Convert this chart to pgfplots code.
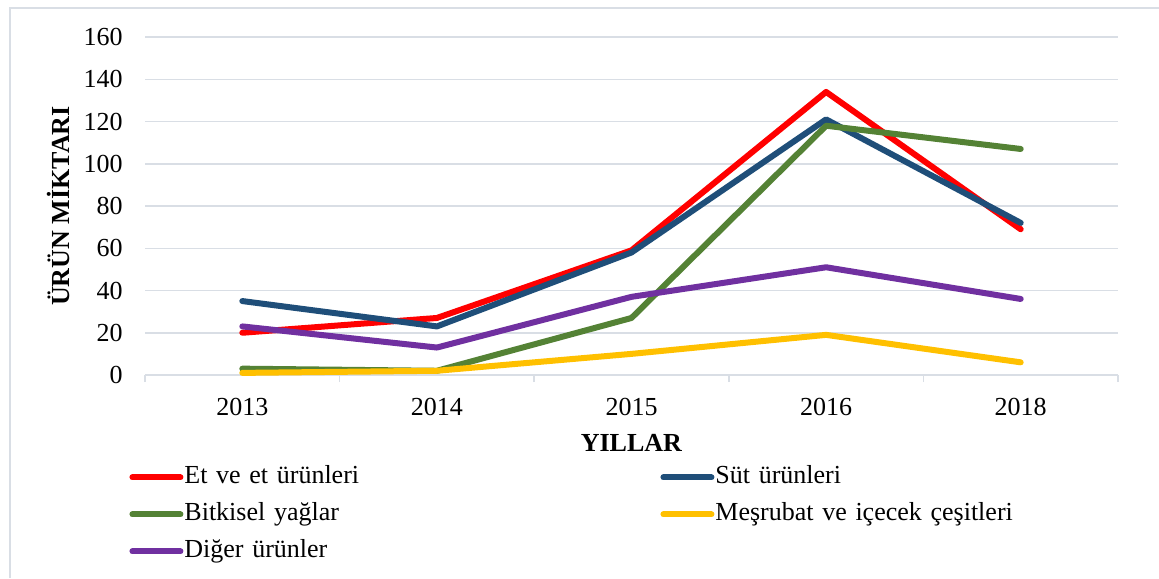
\documentclass[border=0pt]{standalone}
\usepackage{pgfplots}
\pgfplotsset{compat=1.18}
\usepackage{fontspec}
\setmainfont{Liberation Serif}
\definecolor{cEt}{HTML}{FF0000}
\definecolor{cSut}{HTML}{1F4E79}
\definecolor{cBit}{HTML}{548235}
\definecolor{cMes}{HTML}{FFC000}
\definecolor{cDig}{HTML}{7030A0}
\definecolor{gridc}{HTML}{D9DEE5}
\begin{document}
\begin{tikzpicture}
\useasboundingbox (-72.5pt,-101.5pt) rectangle (507pt,187.5pt);
\draw[gridc, line width=0.75pt] (-67.5pt,-101.5pt) -- (-67.5pt,183.5pt) -- (507pt,183.5pt);
\begin{axis}[
  scale only axis,
  width=486.5pt, height=169pt,
  xmin=-0.5, xmax=4.5, ymin=0, ymax=160,
  xtick={0,1,2,3,4},
  xticklabels={2013,2014,2015,2016,2018},
  minor xtick={-0.5,0.5,1.5,2.5,3.5,4.5},
  ytick={0,20,...,160},
  axis x line*=bottom, axis y line*=left,
  y axis line style={draw=none},
  x axis line style={gridc, line width=0.75pt},
  tick align=outside,
  major tick length=0pt, minor tick length=3.5pt,
  minor tick style={gridc, line width=0.75pt},
  ymajorgrids, major grid style={gridc, line width=0.75pt},
  /pgf/number format/assume math mode=true,
  tick label style={font=\fontsize{13}{15}\selectfont, inner sep=0pt},
  yticklabel style={anchor=east, xshift=-11pt},
  xticklabel style={anchor=north, yshift=-11.5pt},
  ylabel={\textbf{ÜRÜN MİKTARI}},
  xlabel={\textbf{YILLAR}},
  every axis y label/.style={at={(axis description cs:-0.0894,0.5)}, anchor=center, rotate=90, font=\fontsize{13}{15}\selectfont},
  every axis x label/.style={at={(axis description cs:0.5,-0.2012)}, anchor=center, font=\fontsize{13}{15}\selectfont},
  legend columns=2,
  legend cell align=left,
  legend style={draw=none, fill=none, inner sep=0pt, column sep=0pt,
    at={(axis description cs:-0.0164,-0.2471)}, anchor=north west,
    font=\fontsize{13}{15}\selectfont,
    nodes={inner xsep=0.5pt, inner ysep=3.25pt, text height=9pt, text depth=3pt, text width=237.5pt, align=left}},
  legend image code/.code={\draw[#1, line width=3pt, line cap=round] (1.5pt,0pt) -- (25.5pt,0pt);},
  every axis plot/.append style={line width=3pt, line cap=round, line join=round, mark=none},
  clip=false,
]
\addplot[cEt] coordinates {(0,20) (1,27) (2,59) (3,134) (4,69)};
\addlegendentry{Et ve et ürünleri}
\addplot[cSut] coordinates {(0,35) (1,23) (2,58) (3,121) (4,72)};
\addlegendentry{Süt ürünleri}
\addplot[cBit] coordinates {(0,3) (1,2) (2,27) (3,118) (4,107)};
\addlegendentry{Bitkisel yağlar}
\addplot[cMes] coordinates {(0,1) (1,2) (2,10) (3,19) (4,6)};
\addlegendentry{Meşrubat ve içecek çeşitleri}
\addplot[cDig] coordinates {(0,23) (1,13) (2,37) (3,51) (4,36)};
\addlegendentry{Diğer ürünler}
\end{axis}
\end{tikzpicture}
\end{document}
